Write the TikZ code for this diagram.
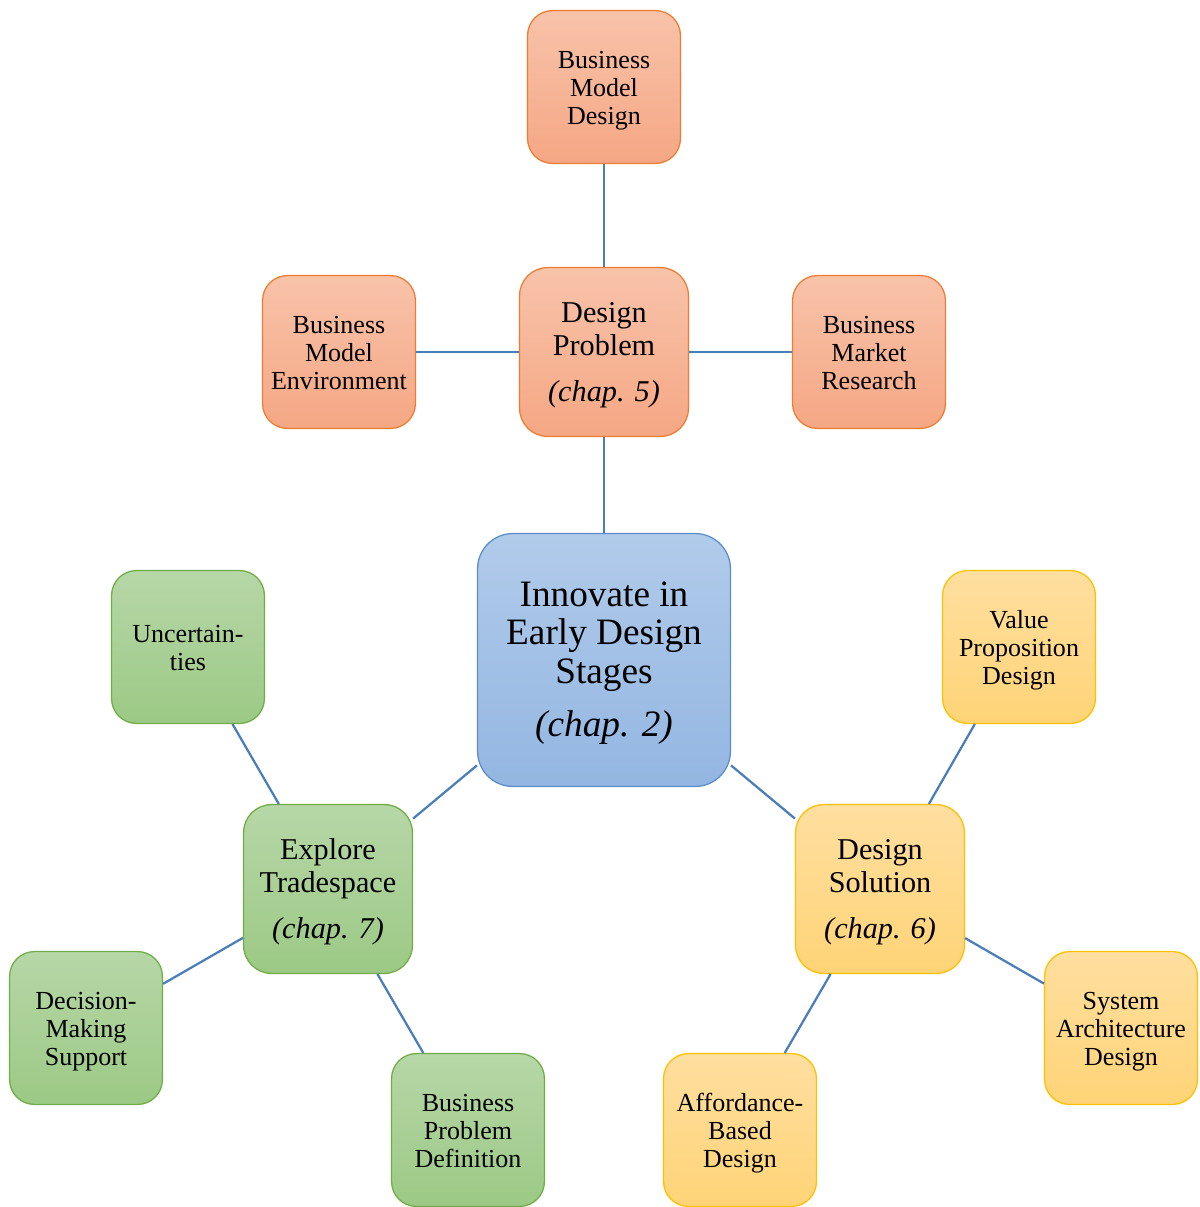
\documentclass[tikz,border=0pt]{standalone}
\usepackage{fontspec}
\setmainfont{Liberation Serif}
\definecolor{orTop}{HTML}{F8C3AA}
\definecolor{orBot}{HTML}{F5A784}
\definecolor{orLine}{HTML}{ED7D31}
\definecolor{blTop}{HTML}{B1CBEA}
\definecolor{blBot}{HTML}{93B6E2}
\definecolor{blLine}{HTML}{5B8DC9}
\definecolor{grTop}{HTML}{B6D7A7}
\definecolor{grBot}{HTML}{9CC985}
\definecolor{grLine}{HTML}{70AD47}
\definecolor{yeTop}{HTML}{FFDFA0}
\definecolor{yeBot}{HTML}{FFD477}
\definecolor{yeLine}{HTML}{FFC000}
\definecolor{conn}{HTML}{4A7EBB}
\newcommand{\bxt}[1]{\raisebox{-2.5pt}[\height][\depth]{\begin{tabular}{@{}c@{}}#1\end{tabular}}}
\tikzset{
  boxbase/.style={rectangle, draw, line width=0.9pt, align=center, inner sep=0pt, text=black},
  smallbox/.style={boxbase, minimum width=3.82cm, minimum height=3.82cm, rounded corners=0.62cm,
     font=\fontsize{18.5}{20}\selectfont},
  midbox/.style={boxbase, minimum width=4.22cm, minimum height=4.22cm, rounded corners=0.7cm,
     font=\fontsize{21.5}{23.5}\selectfont},
  bigbox/.style={boxbase, minimum width=6.32cm, minimum height=6.32cm, rounded corners=0.88cm,
     font=\fontsize{26.5}{27.5}\selectfont},
  orangeC/.style={draw=orLine, top color=orTop, bottom color=orBot},
  blueC/.style={draw=blLine, top color=blTop, bottom color=blBot},
  greenC/.style={draw=grLine, top color=grTop, bottom color=grBot},
  yellowC/.style={draw=yeLine, top color=yeTop, bottom color=yeBot},
  link/.style={draw=conn, line width=1.6pt}
}
\begin{document}
\begin{tikzpicture}[x=0.025cm, y=-0.025cm]
\useasboundingbox (0,0) rectangle (1200,1207);
% center
\node[bigbox, blueC] (center) at (604,660) {\bxt{Innovate in\\Early Design\\Stages\\[10pt]\textit{(chap. 2)}}};
% design problem group
\node[midbox, orangeC] (dp) at (604,352) {\bxt{Design\\Problem\\[9pt]\textit{(chap. 5)}}};
\node[smallbox, orangeC] (bmd) at (604,87) {\bxt{Business\\Model\\Design}};
\node[smallbox, orangeC] (bme) at (339,352) {\bxt{Business\\Model\\Environment}};
\node[smallbox, orangeC] (bmr) at (869,352) {\bxt{Business\\Market\\Research}};
% explore tradespace group
\node[midbox, greenC] (et) at (328,889) {\bxt{Explore\\Tradespace\\[9pt]\textit{(chap. 7)}}};
\node[smallbox, greenC] (unc) at (188,647) {\bxt{Uncertain-\\ties}};
\node[smallbox, greenC] (dms) at (86,1028) {\bxt{Decision-\\Making\\Support}};
\node[smallbox, greenC] (bpd) at (468,1130) {\bxt{Business\\Problem\\Definition}};
% design solution group
\node[midbox, yellowC] (ds) at (880,889) {\bxt{Design\\Solution\\[9pt]\textit{(chap. 6)}}};
\node[smallbox, yellowC] (vpd) at (1019,647) {\bxt{Value\\Proposition\\Design}};
\node[smallbox, yellowC] (sad) at (1121,1028) {\bxt{System\\Architecture\\Design}};
\node[smallbox, yellowC] (abd) at (740,1130) {\bxt{Affordance-\\Based\\Design}};
% connectors
\draw[link] (center) -- (dp);
\draw[link] (center) -- (et);
\draw[link] (center) -- (ds);
\draw[link] (dp) -- (bmd);
\draw[link] (dp) -- (bme);
\draw[link] (dp) -- (bmr);
\draw[link] (et) -- (unc);
\draw[link] (et) -- (dms);
\draw[link] (et) -- (bpd);
\draw[link] (ds) -- (vpd);
\draw[link] (ds) -- (sad);
\draw[link] (ds) -- (abd);
\end{tikzpicture}
\end{document}
